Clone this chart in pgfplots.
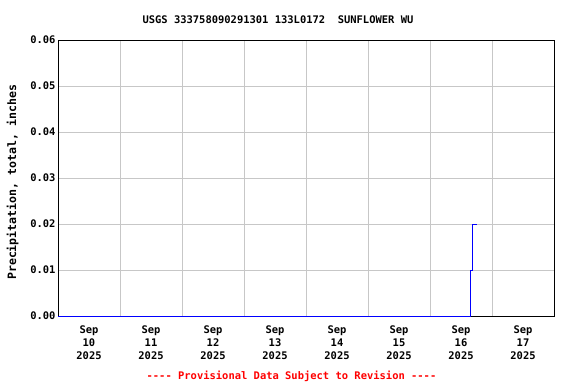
\documentclass[border=0pt]{standalone}
\usepackage{fontspec}
\setmainfont{DejaVu Sans Mono}[Ligatures=TeXOff]
\usepackage{pgfplots}
\pgfplotsset{compat=1.18}
\begin{document}
\begin{tikzpicture}[x=1bp,y=1bp]
\path[use as bounding box] (0,0) rectangle (576,384);
\begin{axis}[
  at={(58bp,68bp)}, anchor=south west,
  scale only axis, width=496bp, height=276bp,
  xmin=0, xmax=8, ymin=0, ymax=0.06,
  font=\bfseries\fontsize{10.5}{13}\selectfont,
  /pgf/number format/assume math mode=true,
  xtick={0.5,1.5,...,7.5},
  xticklabels={{Sep\\10\\2025},{Sep\\11\\2025},{Sep\\12\\2025},{Sep\\13\\2025},{Sep\\14\\2025},{Sep\\15\\2025},{Sep\\16\\2025},{Sep\\17\\2025}},
  x tick label style={align=center, yshift=-6bp},
  minor xtick={1,2,...,7},
  ytick={0,0.01,...,0.06},
  yticklabel={\pgfmathprintnumber[fixed,fixed zerofill,precision=2]{\tick}},
  y tick label style={xshift=1bp},
  scaled y ticks=false,
  major tick length=0pt, minor tick length=0pt,
  xmajorgrids=false, xminorgrids=true, ymajorgrids=true,
  grid style={draw=black!22, line width=0.8bp},
  minor grid style={draw=black!22, line width=0.8bp},
  axis line style={line width=0.8bp},
  ylabel={Precipitation, total, inches},
  every axis y label/.append style={at={(ticklabel cs:0.484)}, yshift=5bp, font=\bfseries\fontsize{11.6}{13}\selectfont},
  title={USGS 333758090291301 133L0172\ \ SUNFLOWER WU},
  title style={at={(rel axis cs:0.4435,1)}, anchor=south, yshift=7bp},
]
\addplot[blue, line width=0.9bp] coordinates {
 (0,0) (6.66,0) (6.66,0.01) (6.69,0.01) (6.69,0.02) (6.76,0.02)
};
\end{axis}
\node[text=red, font=\bfseries\fontsize{10.5}{12}\selectfont] at (291.5,8) {---- Provisional Data Subject to Revision ----};
\end{tikzpicture}
\end{document}
